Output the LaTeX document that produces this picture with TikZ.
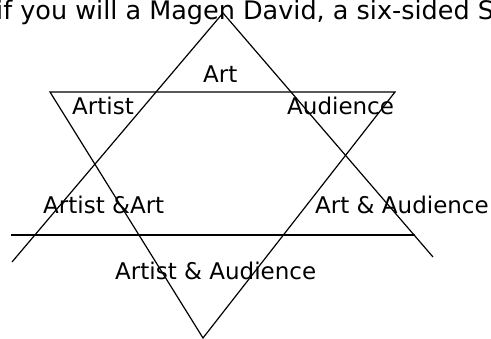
\documentclass[tikz,border=0pt]{standalone}
\usepackage{fontspec}
\setmainfont{DejaVu Sans}
\usetikzlibrary{positioning,calc}

\begin{document}
\begin{tikzpicture}[x=1pt,y=-1pt,
    font=\fontsize{23}{27}\selectfont,
    edge/.style={draw=black,line width=1.2pt},
    lbl/.style={inner sep=0pt,anchor=base west}]
  \useasboundingbox (0,0) rectangle (491,339);
  % caption line, cut at the page edges
  \node[lbl,font=\fontsize{25.5}{30}\selectfont] (cap) at (-4,19.5) {if you will a Magen David, a six-sided S};
  % upward triangle
  \coordinate (up) at (223,13);
  \coordinate (upL) at (12,262);
  \coordinate (upR) at (433,257);
  \coordinate (baseL) at (11,235);
  \coordinate (baseR) at (415,235);
  \draw[edge] (upL) -- (up) -- (upR);
  \draw[edge] (baseL) -- (baseR);
  % downward triangle
  \coordinate (dnL) at (50,92);
  \coordinate (dnR) at (395,92);
  \coordinate (dn) at (203,338);
  \draw[edge] (dnL) -- (dnR) -- (dn) -- cycle;
  % labels
  \node[lbl] (art) at (203,83) {Art};
  \node[lbl] (artist) at (72,115) {Artist};
  \node[lbl] (aud) at (287,115) {Audience};
  \node[lbl] (artistart) at (43,214) {Artist \&Art};
  \node[lbl] (artaud) at (315,214) {Art \& Audience};
  \node[lbl] (artistaud) at (115,280) {Artist \& Audience};
\end{tikzpicture}
\end{document}
